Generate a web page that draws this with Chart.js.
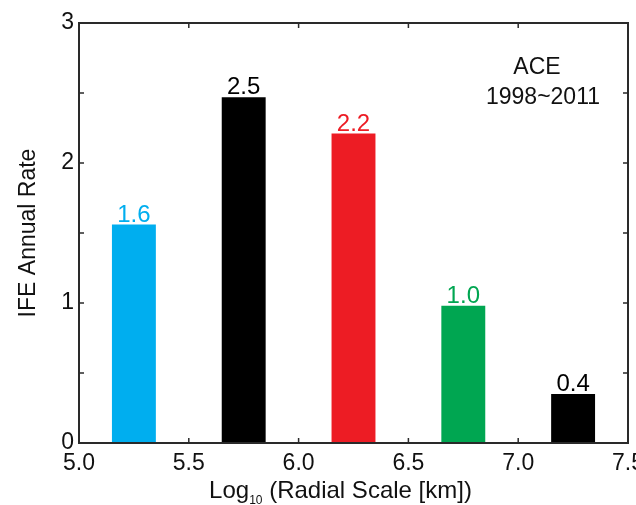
<!DOCTYPE html>
<html>
<head>
<meta charset="utf-8">
<script src="https://cdn.jsdelivr.net/npm/chart.js@4"></script>
<style>
  html, body { margin: 0; padding: 0; background: #fff; overflow: hidden; }
  #wrap { width: 660px; height: 505px; }
</style>
</head>
<body>
<div id="wrap"><canvas id="chart" width="660" height="505"></canvas></div>
<script>
// data
const radialScale = [5.25, 5.75, 6.25, 6.75, 7.25]
const annualRate = [1.56, 2.47, 2.21, 0.98, 0.35]
const rateLabels = ['1.6', '2.5', '2.2', '1.0', '0.4']
const barColors = ['#00AEEF', '#000000', '#ED1C24', '#00A651', '#000000']
const yTicks = [0, 1, 2, 3]
const xTicks = [5.0, 5.5, 6.0, 6.5, 7.0, 7.5]
const noteLines = ['ACE', '1998~2011']

const FONT = '"Liberation Sans", Arial, Helvetica, sans-serif'
const AXIS = '#2a2a2a'

// box around the plot with small inward tick marks on all four sides
const frame = {
    id: 'frame',
    afterDraw(chart) {
        const ctx = chart.ctx
        const a = chart.chartArea
        const x = chart.scales.x
        const y = chart.scales.y
        ctx.save()
        ctx.strokeStyle = AXIS
        ctx.lineWidth = 2
        ctx.strokeRect(a.left, a.top, a.right - a.left, a.bottom - a.top)
        ctx.lineWidth = 1.5
        ctx.beginPath()
        x.ticks.forEach(function (t) {
            const px = x.getPixelForValue(t.value)
            if (px <= a.left + 1 || px >= a.right - 1) return
            ctx.moveTo(px, a.bottom); ctx.lineTo(px, a.bottom - 5)
            ctx.moveTo(px, a.top); ctx.lineTo(px, a.top + 5)
        })
        y.ticks.forEach(function (t) {
            const py = y.getPixelForValue(t.value)
            if (py <= a.top + 1 || py >= a.bottom - 1) return
            ctx.moveTo(a.left, py); ctx.lineTo(a.left + 5, py)
            ctx.moveTo(a.right, py); ctx.lineTo(a.right - 5, py)
        })
        ctx.stroke()
        ctx.restore()
    }
}

// value labels over each bar, the note and the x title with its subscript
const annotations = {
    id: 'annotations',
    afterDatasetsDraw(chart) {
        const ctx = chart.ctx
        const a = chart.chartArea
        ctx.save()
        ctx.font = '24px ' + FONT
        ctx.textAlign = 'center'
        ctx.textBaseline = 'alphabetic'
        chart.getDatasetMeta(0).data.forEach(function (bar, i) {
            ctx.fillStyle = barColors[i]
            ctx.fillText(rateLabels[i], bar.x, bar.y - 3)
        })

        ctx.fillStyle = '#111'
        ctx.font = '23px ' + FONT
        ctx.fillText(noteLines[0], a.right - 91, 74)
        ctx.fillText(noteLines[1], a.right - 85, 104)

        // x title: Log10 (Radial Scale [km])
        const big = '24px ' + FONT
        const small = '12px ' + FONT
        const parts = [['Log', big, 0], ['10', small, 6], [' (Radial Scale [km])', big, 0]]
        let total = 0
        parts.forEach(function (p) { ctx.font = p[1]; total += ctx.measureText(p[0]).width })
        let cx = (a.left + a.right) / 2 - 13 - total / 2
        ctx.textAlign = 'left'
        parts.forEach(function (p) {
            ctx.font = p[1]
            ctx.fillText(p[0], cx, 498 + p[2])
            cx += ctx.measureText(p[0]).width
        })
        ctx.restore()
    }
}

const canvas = document.querySelector('#chart')
let myChart = new Chart(canvas, {
    type: 'bar',
    data: {
        datasets: [{
            label: 'IFE Annual Rate',
            data: radialScale.map(function (r, i) { return { x: r, y: annualRate[i] } }),
            backgroundColor: barColors,
            borderWidth: 0,
            barPercentage: 0.4,
            categoryPercentage: 1.0
        }]
    },
    options: {
        responsive: false,
        animation: false,
        layout: { padding: { left: 15, top: 23, right: 32, bottom: 0 } },
        plugins: {
            legend: { display: false },
            tooltip: { enabled: false }
        },
        scales: {
            x: {
                type: 'linear',
                offset: false,
                min: 5,
                max: 7.5,
                afterBuildTicks: function (scale) {
                    scale.ticks = xTicks.map(function (v) { return { value: v } })
                },
                afterFit: function (scale) { scale.height = 62 },
                grid: { display: false, drawTicks: false, offset: false },
                border: { display: false },
                ticks: {
                    padding: 7,
                    color: '#111',
                    font: { family: FONT, size: 23 },
                    maxRotation: 0,
                    autoSkip: false,
                    callback: function (v) { return v.toFixed(1) }
                }
            },
            y: {
                min: 0,
                max: 3,
                afterBuildTicks: function (scale) {
                    const t = []
                    for (let v = 0; v <= 3; v += 0.5) t.push({ value: v })
                    scale.ticks = t
                },
                afterFit: function (scale) { scale.width = 64 },
                grid: { display: false, drawTicks: false },
                border: { display: false },
                ticks: {
                    padding: 5,
                    color: '#111',
                    font: { family: FONT, size: 23 },
                    autoSkip: false,
                    callback: function (v) { return yTicks.includes(v) ? String(v) : '' }
                },
                title: {
                    display: true,
                    text: 'IFE Annual Rate',
                    color: '#111',
                    padding: 0,
                    font: { family: FONT, size: 23 }
                }
            }
        }
    },
    plugins: [frame, annotations]
});
</script>
</body>
</html>
